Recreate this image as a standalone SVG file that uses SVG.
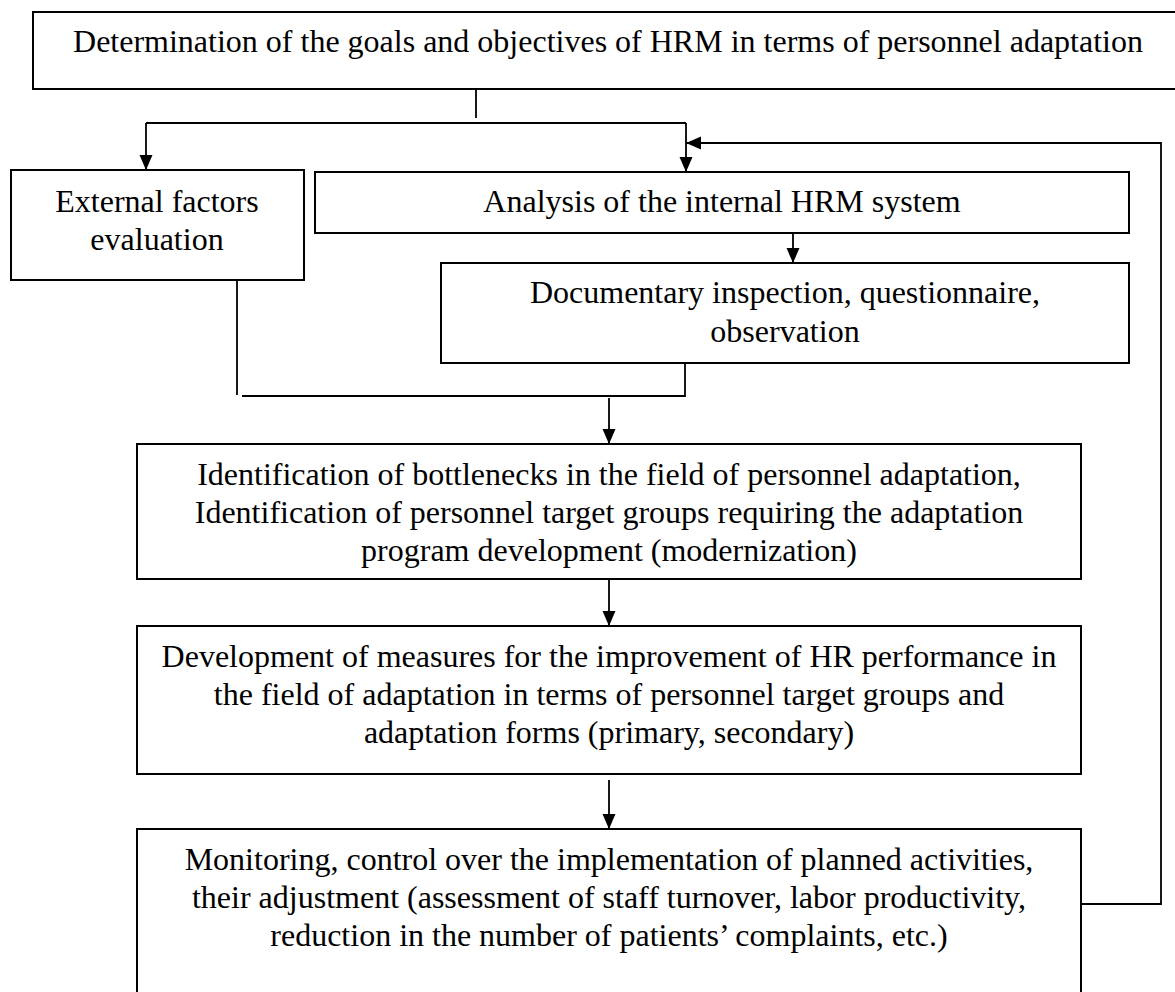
<svg xmlns="http://www.w3.org/2000/svg" width="1175" height="992" viewBox="0 0 1175 992">
<style>
.box{fill:#fff;stroke:#000;stroke-width:2}
.t{font-family:"Liberation Serif","Times New Roman",serif;font-size:32px;fill:#000;text-anchor:middle}
.c{fill:none;stroke:#000;stroke-width:1.8}
</style>
<defs>
<marker id="ah" markerUnits="userSpaceOnUse" markerWidth="16" markerHeight="14" refX="15" refY="6.5" orient="auto">
<path d="M0,0 L15,6.5 L0,13 z" fill="#000"/>
</marker>
</defs>
<rect width="1175" height="992" fill="#fff"/>
<g id="n-goals">
<rect class="box" x="33" y="12" width="1150" height="77"/>
<text class="t" x="608" y="52">Determination of the goals and objectives of HRM in terms of personnel adaptation</text>
</g>
<g id="n-external">
<rect class="box" x="11" y="170" width="293" height="110"/>
<text class="t" x="157" y="212">External factors</text>
<text class="t" x="157" y="250">evaluation</text>
</g>
<g id="n-analysis">
<rect class="box" x="315" y="172" width="814" height="61"/>
<text class="t" x="722" y="212">Analysis of the internal HRM system</text>
</g>
<g id="n-documentary">
<rect class="box" x="441" y="263" width="688" height="100"/>
<text class="t" x="785" y="303">Documentary inspection, questionnaire,</text>
<text class="t" x="785" y="342">observation</text>
</g>
<g id="n-identification">
<rect class="box" x="137" y="444" width="944" height="135"/>
<text class="t" x="609" y="485">Identification of bottlenecks in the field of personnel adaptation,</text>
<text class="t" x="609" y="523">Identification of personnel target groups requiring the adaptation</text>
<text class="t" x="609" y="561">program development (modernization)</text>
</g>
<g id="n-development">
<rect class="box" x="137" y="626" width="944" height="148"/>
<text class="t" x="609" y="667">Development of measures for the improvement of HR performance in</text>
<text class="t" x="609" y="705">the field of adaptation in terms of personnel target groups and</text>
<text class="t" x="609" y="743">adaptation forms (primary, secondary)</text>
</g>
<g id="n-monitoring">
<rect class="box" x="137" y="829" width="944" height="170"/>
<text class="t" x="609" y="870">Monitoring, control over the implementation of planned activities,</text>
<text class="t" x="609" y="908">their adjustment (assessment of staff turnover, labor productivity,</text>
<text class="t" x="609" y="946">reduction in the number of patients’ complaints, etc.)</text>
</g>
<g id="connectors">
<path class="c" d="M476,89 V118"/>
<path class="c" d="M146,123 H686"/>
<path class="c" d="M146,123 V170" marker-end="url(#ah)"/>
<path class="c" d="M686,123 V172" marker-end="url(#ah)"/>
<path class="c" d="M1081,904 H1161 V143 H686" marker-end="url(#ah)"/>
<path class="c" d="M793,233 V263" marker-end="url(#ah)"/>
<path class="c" d="M237,280 V395"/>
<path class="c" d="M242,396 H685 V363"/>
<path class="c" d="M609,398 V444" marker-end="url(#ah)"/>
<path class="c" d="M609,579 V626" marker-end="url(#ah)"/>
<path class="c" d="M609,780 V829" marker-end="url(#ah)"/>
</g>
</svg>
